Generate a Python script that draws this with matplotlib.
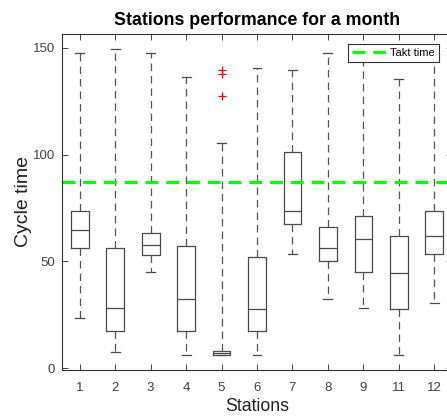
import matplotlib
matplotlib.use("Agg")
import matplotlib.pyplot as plt

plt.rcParams['font.family'] = ['Liberation Sans', 'DejaVu Sans']

# stations and box statistics
stations = ['1', '2', '3', '4', '5', '6', '7', '8', '9', '11', '12']
whis_lo = [23.4, 7.5, 45.3, 6.3, 6.3, 6.3, 53.4, 32.3, 28.1, 6.3, 30.5]
q1 = [56.5, 17.3, 53.2, 17.3, 6.3, 17.3, 67.7, 50.4, 45.3, 27.6, 53.4]
medians = [64.6, 28.1, 57.6, 32.3, 7.0, 27.6, 73.4, 56.5, 60.5, 44.4, 62.1]
q3 = [73.4, 56.5, 63.5, 57.4, 8.3, 52.3, 101.3, 66.3, 71.4, 62.1, 73.4]
whis_hi = [147.5, 149.3, 147.5, 136.4, 105.3, 140.4, 139.3, 147.5, 147.0, 135.3, 147.0]
outliers = {'5': [139.6, 137.8, 127.4]}
takt_time = 87.3

stats = []
for i, s in enumerate(stations):
    stats.append({
        'label': s,
        'whislo': whis_lo[i],
        'q1': q1[i],
        'med': medians[i],
        'q3': q3[i],
        'whishi': whis_hi[i],
        'fliers': outliers.get(s, []),
    })

fig = plt.figure(figsize=(4.47, 4.17), dpi=100)
ax = fig.add_axes([62 / 447, 47.5 / 417, 390 / 447, 335.2 / 417])

box_col = '#4a4a4a'
ax.bxp(stats, positions=range(1, len(stations) + 1), widths=0.5,
       boxprops=dict(color=box_col, linewidth=0.9),
       medianprops=dict(color=box_col, linewidth=0.9),
       whiskerprops=dict(color='#555555', linewidth=0.9, linestyle=(0, (6, 4))),
       capprops=dict(color=box_col, linewidth=0.9),
       capwidths=0.25,
       flierprops=dict(marker='+', markeredgecolor='red', markersize=6,
                       markeredgewidth=0.9, linestyle='none'))

ax.axhline(takt_time, color='#00ff00', linestyle=(0, (4, 2.5)), linewidth=2.3,
           label='Takt time')

ax.set_xlim(0.5, 11.5)
ax.set_ylim(-0.5, 156.2)
ax.set_yticks([0, 50, 100, 150])
ax.set_xticks(range(1, len(stations) + 1))
ax.set_xticklabels(stations)
ax.tick_params(direction='in', top=True, right=True, labelsize=9.5,
               colors='#444444', labelcolor='#404040', length=4, width=0.7)
ax.tick_params(axis='x', pad=9)
ax.tick_params(axis='y', pad=5)
for sp in ax.spines.values():
    sp.set_color('#333333')
    sp.set_linewidth(0.8)

ax.set_title('Stations performance for a month', fontsize=12.8,
             fontweight='bold', pad=7)
ax.set_xlabel('Stations', fontsize=12.8, color='#222222', labelpad=3)
ax.set_ylabel('Cycle time', fontsize=14, color='#222222', labelpad=0.8)

leg = ax.legend(loc='upper right', bbox_to_anchor=(0.967, 0.971), fontsize=8,
                fancybox=False, framealpha=1, edgecolor='#333333',
                handlelength=3.2, handletextpad=0.25, borderpad=0.35,
                borderaxespad=0)
leg.get_frame().set_linewidth(0.8)

fig.savefig('out.png', dpi=100)
